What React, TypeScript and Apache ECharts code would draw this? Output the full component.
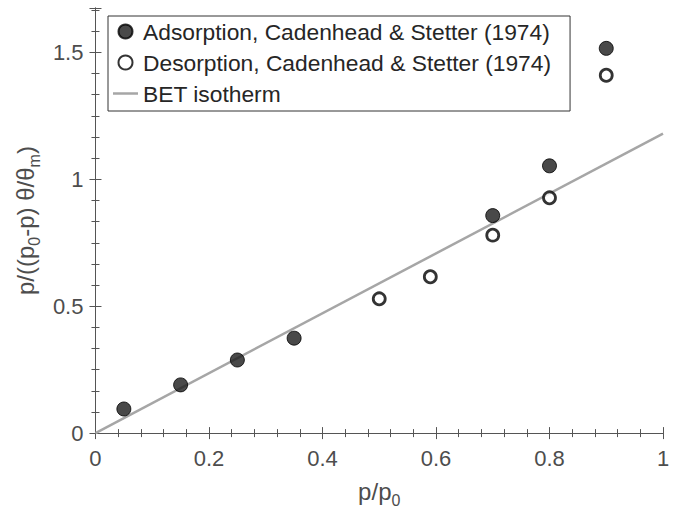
import { useEffect, useRef } from 'react';
import * as echarts from 'echarts';

const adsorptionX = [0.05, 0.15, 0.25, 0.35, 0.7, 0.8, 0.9];
const adsorptionY = [0.095, 0.19, 0.288, 0.374, 0.857, 1.053, 1.516];
const desorptionX = [0.5, 0.59, 0.7, 0.8, 0.9];
const desorptionY = [0.529, 0.616, 0.78, 0.927, 1.41];
const betX = [0, 1];
const betY = [0, 1.18];
const xTickLabels = ['0', '0.2', '0.4', '0.6', '0.8', '1'];
const yTickLabels = ['0', '0.5', '1', '1.5'];
const seriesNames = [
  'Adsorption, Cadenhead & Stetter (1974)',
  'Desorption, Cadenhead & Stetter (1974)',
  'BET isotherm',
];

const FONT = 'Liberation Sans';
const AXIS_COLOR = '#555';
const LABEL_COLOR = '#4d4d4d';

export default function App() {
  const ref = useRef<HTMLDivElement>(null);
  useEffect(() => {
    document.body.style.margin = '0';
    if (!ref.current) return;
    const chart = echarts.init(ref.current, undefined, { renderer: 'svg' });
    const fmt = (labels: string[]) => (v: number) => {
      const s = String(Math.round(v * 1000) / 1000);
      return labels.includes(s) ? s : '';
    };
    const sub = { fontSize: 16, fontFamily: FONT, color: LABEL_COLOR, verticalAlign: 'bottom', lineHeight: 34 };
    const baseAxis = {
      axisLine: { lineStyle: { color: AXIS_COLOR, width: 1 } },
      axisTick: { inside: true, length: 6, lineStyle: { color: AXIS_COLOR } },
      minorTick: { show: true, length: 4, lineStyle: { color: AXIS_COLOR } },
      splitLine: { show: false },
    };
    chart.setOption({
      animation: false,
      backgroundColor: '#fff',
      grid: { left: 95, right: 31, top: 8, bottom: 76, containLabel: false },
      legend: {
        orient: 'vertical',
        left: 108,
        top: 16,
        padding: [4, 19, 6, 5],
        itemGap: 8,
        itemWidth: 25,
        itemHeight: 14,
        symbolKeepAspect: true,
        borderColor: '#333',
        borderWidth: 1,
        backgroundColor: '#fff',
        textStyle: { fontFamily: FONT, fontSize: 22.8, color: '#262626', lineHeight: 22 },
        data: [
          { name: seriesNames[0], icon: 'circle' },
          { name: seriesNames[1], icon: 'circle' },
          { name: seriesNames[2], icon: 'path://M0,0 L100,0 L100,10 L0,10 Z' },
        ],
      },
      xAxis: [
        {
          ...baseAxis,
          type: 'value',
          min: 0,
          max: 1,
          interval: 0.2,
          minorTick: { ...baseAxis.minorTick, splitNumber: 5 },
          axisLabel: {
            fontFamily: FONT,
            fontSize: 22,
            color: LABEL_COLOR,
            margin: 14,
            formatter: fmt(xTickLabels),
          },
          name: 'p/p{s|0}',
          nameLocation: 'middle',
          nameGap: 40,
          nameTextStyle: {
            fontFamily: FONT,
            fontSize: 24,
            color: LABEL_COLOR,
            lineHeight: 34,
            rich: { s: sub },
          },
        },
        {
          ...baseAxis,
          type: 'value',
          position: 'top',
          min: 0,
          max: 1,
          interval: 0.2,
          minorTick: { ...baseAxis.minorTick, splitNumber: 5 },
          axisLabel: { show: false },
        },
      ],
      yAxis: [
        {
          ...baseAxis,
          type: 'value',
          min: 0,
          max: 1.675,
          interval: 0.5,
          minorTick: { ...baseAxis.minorTick, splitNumber: 6 },
          axisLabel: {
            fontFamily: FONT,
            fontSize: 22,
            color: LABEL_COLOR,
            margin: 12,
            showMaxLabel: false,
            formatter: fmt(yTickLabels),
          },
          name: 'p/((p{s|0}-p) θ/θ{s|m})',
          nameLocation: 'middle',
          nameGap: 46,
          nameTextStyle: {
            fontFamily: FONT,
            fontSize: 24,
            color: LABEL_COLOR,
            lineHeight: 34,
            rich: { s: sub },
          },
        },
        {
          ...baseAxis,
          type: 'value',
          position: 'right',
          min: 0,
          max: 1.675,
          interval: 0.5,
          minorTick: { ...baseAxis.minorTick, splitNumber: 6 },
          axisLabel: { show: false },
        },
      ],
      series: [
        {
          name: seriesNames[2],
          type: 'line',
          data: betX.map((x, i) => [x, betY[i]]),
          symbol: 'none',
          lineStyle: { color: '#a6a6a6', width: 2.5 },
          itemStyle: { color: '#a6a6a6' },
          z: 1,
        },
        {
          name: seriesNames[0],
          type: 'scatter',
          data: adsorptionX.map((x, i) => [x, adsorptionY[i]]),
          symbol: 'circle',
          symbolSize: 14,
          itemStyle: { color: '#1c1c1c', borderColor: '#000', borderWidth: 1 },
          z: 3,
        },
        {
          name: seriesNames[1],
          type: 'scatter',
          data: desorptionX.map((x, i) => [x, desorptionY[i]]),
          symbol: 'circle',
          symbolSize: 12,
          itemStyle: { color: '#fff', borderColor: '#000', borderWidth: 2.8 },
          z: 3,
        },
      ],
    });
    return () => chart.dispose();
  }, []);
  return <div ref={ref} style={{ width: 694, height: 513 }} />;
}
